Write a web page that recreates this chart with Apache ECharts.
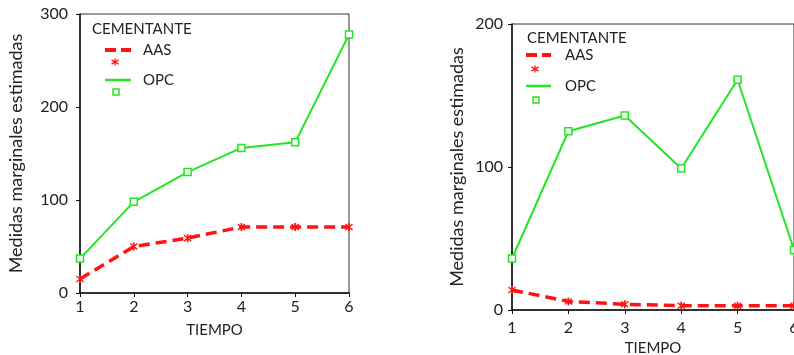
<!DOCTYPE html>
<html>
<head>
<meta charset="utf-8">
<script src="https://cdn.jsdelivr.net/npm/echarts@6/dist/echarts.min.js"></script>
<style>
  html, body { margin: 0; padding: 0; background: #fff; }
  #chart { width: 794px; height: 355px; }
</style>
</head>
<body>
<div id="chart"></div>
<script>
// data
const tiempo = ['1', '2', '3', '4', '5', '6']
const aasLeft = [15, 50, 59, 71, 71, 71]
const opcLeft = [37, 98, 130, 156, 162, 278]
const aasRight = [14, 6, 4, 3, 3, 3]
const opcRight = [36, 125, 136, 99, 161, 42]

const RED = '#ff1414'
const GREEN = '#22e622'
const FONT = 'Lato'
const star = 'path://M4,0h2v10h-2z M0.5,1.8 L1.5,0.6 L9.5,8.2 L8.5,9.4z M0.5,8.2 L8.5,0.6 L9.5,1.8 L1.5,9.4z'

let chart = echarts.init(document.getElementById('chart'))

function xAxisOf (idx, margin, gap) {
  return {
    type: 'category',
    gridIndex: idx,
    data: tiempo,
    boundaryGap: false,
    name: 'TIEMPO',
    nameLocation: 'middle',
    nameGap: gap,
    nameTextStyle: { fontFamily: FONT, fontSize: 15, color: '#222' },
    axisLine: { lineStyle: { color: '#111', width: 1.5 } },
    axisTick: { show: true, length: 4, alignWithLabel: true, lineStyle: { color: '#111' } },
    axisLabel: { margin: margin, fontFamily: FONT, fontSize: 16, color: '#222' },
    splitLine: { show: false }
  }
}

function yAxisOf (idx, max, gap, margin) {
  return {
    type: 'value',
    gridIndex: idx,
    min: 0,
    max: max,
    interval: 100,
    name: 'Medidas marginales estimadas',
    nameLocation: 'middle',
    nameRotate: 90,
    nameGap: gap,
    nameTextStyle: { fontFamily: FONT, fontSize: 18, color: '#222' },
    axisLine: { show: true, lineStyle: { color: '#111', width: 1.5 } },
    axisTick: { show: true, length: 4, lineStyle: { color: '#111' } },
    axisLabel: { margin: margin, fontFamily: FONT, fontSize: 16, color: '#222' },
    splitLine: { show: false }
  }
}

function aasSeries (idx, data) {
  return {
    name: 'AAS',
    type: 'line',
    xAxisIndex: idx,
    yAxisIndex: idx,
    data: data,
    symbol: star,
    symbolSize: 8,
    showAllSymbol: true,
    itemStyle: { color: RED },
    lineStyle: { color: RED, width: 3.5, type: [11, 6] },
    animation: false
  }
}

function opcSeries (idx, data) {
  return {
    name: 'OPC',
    type: 'line',
    xAxisIndex: idx,
    yAxisIndex: idx,
    data: data,
    symbol: 'rect',
    symbolSize: 7,
    showAllSymbol: true,
    itemStyle: { color: '#fff', borderColor: GREEN, borderWidth: 1.5 },
    lineStyle: { color: GREEN, width: 2 },
    animation: false
  }
}

function label (x, y, text) {
  return { type: 'text', x: x, y: y, style: { text: text, font: '15px ' + FONT, fill: '#222', verticalAlign: 'middle' } }
}

// little asterisk for the key
function starMark (cx, cy) {
  const s = 3.5
  return [
    { type: 'line', shape: { x1: cx, y1: cy - s, x2: cx, y2: cy + s }, style: { stroke: RED, lineWidth: 1.3 } },
    { type: 'line', shape: { x1: cx - s, y1: cy - s * 0.6, x2: cx + s, y2: cy + s * 0.6 }, style: { stroke: RED, lineWidth: 1.3 } },
    { type: 'line', shape: { x1: cx - s, y1: cy + s * 0.6, x2: cx + s, y2: cy - s * 0.6 }, style: { stroke: RED, lineWidth: 1.3 } }
  ]
}

// legend block drawn like the SPSS key: line on top, marker below
function legendBlock (titleX, yTitle, lineX, yAas, yOpc, textX, lineW, markX, markGap) {
  return [
    label(titleX, yTitle, 'CEMENTANTE'),
    { type: 'line', shape: { x1: lineX, y1: yAas, x2: lineX + lineW, y2: yAas }, style: { stroke: RED, lineWidth: 4, lineDash: [11, 5] } },
    label(textX, yAas, 'AAS'),
    { type: 'line', shape: { x1: lineX, y1: yOpc, x2: lineX + lineW, y2: yOpc }, style: { stroke: GREEN, lineWidth: 2.5 } },
    { type: 'rect', shape: { x: markX - 3, y: yOpc + markGap - 3, width: 6, height: 6 }, style: { fill: '#fff', stroke: GREEN, lineWidth: 1.5 } },
    label(textX, yOpc, 'OPC')
  ].concat(starMark(markX - 1, yAas + markGap))
}

chart.setOption({
  backgroundColor: '#fff',
  animation: false,
  grid: [
    { left: 80, top: 14, width: 269, height: 279, show: true, borderColor: '#333', borderWidth: 1, outerBoundsMode: 'none' },
    { left: 512, top: 24, width: 282, height: 286, show: true, borderColor: '#333', borderWidth: 1, outerBoundsMode: 'none' }
  ],
  xAxis: [xAxisOf(0, 6, 30), xAxisOf(1, 10, 31)],
  yAxis: [yAxisOf(0, 300, 55, 12), yAxisOf(1, 200, 46, 9)],
  series: [
    aasSeries(0, aasLeft),
    opcSeries(0, opcLeft),
    aasSeries(1, aasRight),
    opcSeries(1, opcRight)
  ],
  graphic: legendBlock(92, 29, 105, 50, 80, 143, 26, 116, 12)
    .concat(legendBlock(527, 38, 526, 55, 86, 565, 25, 536, 14))
})
</script>
</body>
</html>
